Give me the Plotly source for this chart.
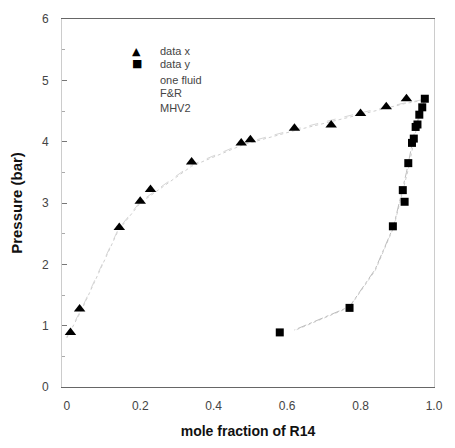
import plotly.graph_objects as go

# data x (liquid, triangles)
liq_x = [0.01, 0.035, 0.143, 0.20, 0.228, 0.34, 0.475, 0.50, 0.62, 0.72, 0.80, 0.87, 0.925]
liq_p = [0.89, 1.27, 2.60, 3.03, 3.22, 3.67, 3.98, 4.03, 4.22, 4.27, 4.46, 4.57, 4.70]

# data y (vapour, squares)
vap_x = [0.58, 0.77, 0.888, 0.915, 0.92, 0.93, 0.94, 0.945, 0.95, 0.955, 0.96, 0.968, 0.975]
vap_p = [0.89, 1.29, 2.62, 3.21, 3.02, 3.65, 3.98, 4.05, 4.24, 4.28, 4.44, 4.56, 4.70]

# model curves (faint in the original)
one_x = [0.0, 0.04, 0.14, 0.20, 0.34, 0.48, 0.62, 0.80, 0.92, 0.975, 0.97, 0.955, 0.93, 0.89, 0.84, 0.77, 0.62]
one_p = [0.80, 1.25, 2.55, 3.00, 3.60, 3.95, 4.18, 4.45, 4.62, 4.68, 4.55, 4.30, 3.55, 2.60, 1.90, 1.30, 0.92]
fr_x = [0.0, 0.04, 0.14, 0.20, 0.34, 0.48, 0.62, 0.80, 0.92, 0.975]
fr_p = [0.82, 1.27, 2.57, 3.02, 3.62, 3.97, 4.20, 4.47, 4.63, 4.69]
mhv_x = [0.975, 0.965, 0.95, 0.925, 0.89, 0.84, 0.77, 0.62]
mhv_p = [4.69, 4.52, 4.25, 3.50, 2.62, 1.92, 1.31, 0.93]

x_ticks = [0.0, 0.2, 0.4, 0.6, 0.8, 1.0]
x_ticklabels = ["0", "0.2", "0.4", "0.6", "0.8", "1.0"]
y_ticks = [0, 1, 2, 3, 4, 5, 6]
y_ticklabels = ["0", "1", "2", "3", "4", "5", "6"]

legend_names = ["data x", "data y", "one fluid", "F&R", "MHV2"]
legend_symbols = ["▲", "■", "", "", ""]

fig = go.Figure()
fig.add_trace(go.Scatter(x=one_x, y=one_p, mode="lines", name="one fluid",
                         line=dict(color="#cfcfcf", width=1, dash="dot")))
fig.add_trace(go.Scatter(x=fr_x, y=fr_p, mode="lines", name="F&R",
                         line=dict(color="#d6d6d6", width=1, dash="dash")))
fig.add_trace(go.Scatter(x=mhv_x, y=mhv_p, mode="lines", name="MHV2",
                         line=dict(color="#bdbdbd", width=1, dash="dashdot")))
fig.add_trace(go.Scatter(x=liq_x, y=liq_p, mode="markers", name="data x",
                         marker=dict(symbol="triangle-up", size=10, color="black")))
fig.add_trace(go.Scatter(x=vap_x, y=vap_p, mode="markers", name="data y",
                         marker=dict(symbol="square", size=8, color="black")))

legend_y = [0.913, 0.878, 0.834, 0.798, 0.757]
for name, sym, yy in zip(legend_names, legend_symbols, legend_y):
    if sym:
        fig.add_annotation(x=0.201, y=yy, xref="paper", yref="paper", text=sym,
                           showarrow=False, xanchor="center", yanchor="middle",
                           borderpad=0,
                           font=dict(size=11, color="black", family="DejaVu Sans"))
    fig.add_annotation(x=0.26, y=yy, xref="paper", yref="paper", text=name,
                       showarrow=False, xanchor="left", yanchor="middle",
                       borderpad=0,
                       font=dict(size=11, color="#444444", family="Liberation Sans"))

fig.update_layout(
    width=455, height=448,
    margin=dict(l=62, r=15, t=15, b=55),
    paper_bgcolor="white", plot_bgcolor="white",
    showlegend=False,
    font=dict(family="Liberation Sans", color="#333333", size=12),
)
fig.update_xaxes(range=[-0.013, 1.0], tickvals=x_ticks, ticktext=x_ticklabels,
                 showgrid=False, zeroline=False, showline=True, mirror=True,
                 linecolor="#666666", linewidth=1, ticks="",
                 ticklabelstandoff=8,
                 tickfont=dict(size=12, color="#444444"),
                 title=dict(text="<b>mole fraction of R14</b>", standoff=13,
                            font=dict(size=14, color="#111111")))
fig.update_yaxes(range=[0, 6], tickvals=y_ticks, ticktext=y_ticklabels,
                 showgrid=False, zeroline=False, showline=True, mirror=True,
                 linecolor="#cccccc", linewidth=1, ticks="inside", ticklen=5,
                 tickcolor="#777777", ticklabelstandoff=10,
                 minor=dict(tickvals=[0.5, 1.5, 2.5, 3.5, 4.5, 5.5], ticks="inside",
                            ticklen=3, tickcolor="#aaaaaa"),
                 tickfont=dict(size=12, color="#444444"),
                 title=dict(text="<b>Pressure (bar)</b>", standoff=15,
                            font=dict(size=15, color="#111111")))

fig.write_html("out.html", config={"displayModeBar": False},
               post_script="document.body.style.margin='0';")
